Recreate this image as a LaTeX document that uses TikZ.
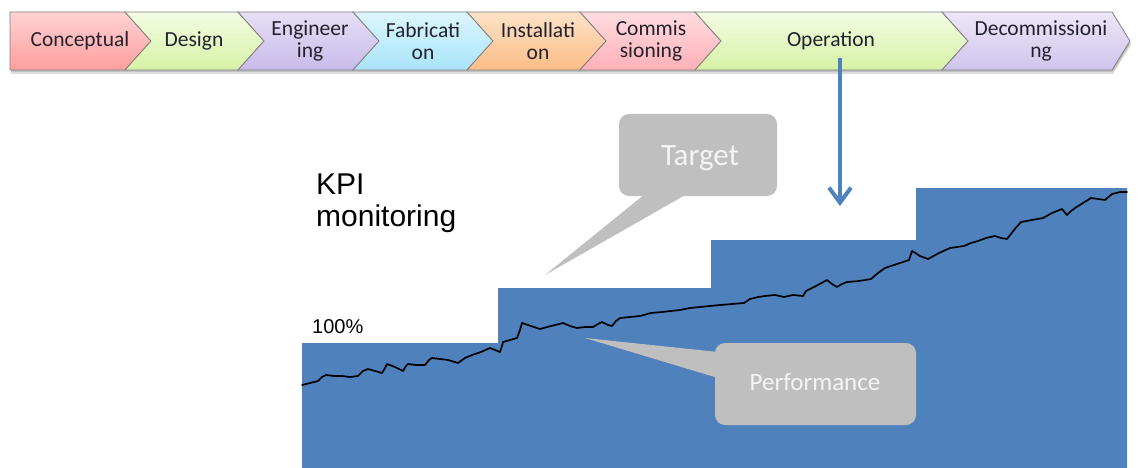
\documentclass[tikz,border=0pt]{standalone}
\usepackage{fontspec}
\setmainfont{Carlito}
\newfontfamily\arialfont{Liberation Sans}
\usetikzlibrary{arrows.meta}

\definecolor{chartblue}{HTML}{4F81BD}
\definecolor{calloutgray}{HTML}{BFBFBF}
\definecolor{callouttext}{HTML}{F4F4F4}
\definecolor{chevronedge}{HTML}{7F7F7F}
\definecolor{chevrontext}{HTML}{22222E}
% stage colours, light (top) and deeper (bottom)
\definecolor{redTop}{HTML}{FFD2D2}    \definecolor{redBot}{HTML}{FF9E9E}
\definecolor{limeTop}{HTML}{F4FCE4}   \definecolor{limeBot}{HTML}{D6F2A6}
\definecolor{lilacTop}{HTML}{E6DFF6}  \definecolor{lilacBot}{HTML}{C9BBEA}
\definecolor{cyanTop}{HTML}{DDF6FE}   \definecolor{cyanBot}{HTML}{A8E4FA}
\definecolor{peachTop}{HTML}{FEE2C8}  \definecolor{peachBot}{HTML}{FBBD86}
\definecolor{pinkTop}{HTML}{FFDCE0}   \definecolor{pinkBot}{HTML}{FFB0B8}
\definecolor{paleTop}{HTML}{EDE7F8}   \definecolor{paleBot}{HTML}{D0C4EC}

\begin{document}
\begin{tikzpicture}[x=1pt,y=-1pt,
  chevronbox/.style={draw=chevronedge,line width=0.8pt,line join=miter},
  chevronshadow/.style={fill=black,opacity=0.13},
  stagelabel/.style={text=chevrontext,align=center,inner sep=0pt,
    font=\fontsize{21.5}{22}\selectfont},
  callout/.style={fill=calloutgray,draw=none,rounded corners=10pt},
  calloutlabel/.style={text=callouttext,inner sep=0pt},
  plainlabel/.style={text=black,inner sep=0pt,anchor=base west,align=left}]

\useasboundingbox (0,0) rectangle (1138,468);

% ---- soft shadow under the stage bar
\foreach \s in {2,4}{
  \fill[chevronshadow,shift={(1,\s)}]
    (10,12) -- (1112,12) -- (1130,41) -- (1112,70) -- (10,70) -- cycle;
}

% ---- stage chevrons
\shade[chevronbox,top color=redTop,bottom color=redBot]
  (10,12) -- (125,12) -- (151,41) -- (125,70) -- (10,70) -- cycle;
\shade[chevronbox,top color=limeTop,bottom color=limeBot]
  (125,12) -- (238,12) -- (264,41) -- (238,70) -- (125,70) -- (151,41) -- cycle;
\shade[chevronbox,top color=lilacTop,bottom color=lilacBot]
  (238,12) -- (353,12) -- (379,41) -- (353,70) -- (238,70) -- (264,41) -- cycle;
\shade[chevronbox,top color=cyanTop,bottom color=cyanBot]
  (353,12) -- (467,12) -- (493,41) -- (467,70) -- (353,70) -- (379,41) -- cycle;
\shade[chevronbox,top color=peachTop,bottom color=peachBot]
  (467,12) -- (580,12) -- (606,41) -- (580,70) -- (467,70) -- (493,41) -- cycle;
\shade[chevronbox,top color=pinkTop,bottom color=pinkBot]
  (580,12) -- (695,12) -- (721,41) -- (695,70) -- (580,70) -- (606,41) -- cycle;
\shade[chevronbox,top color=limeTop,bottom color=limeBot]
  (695,12) -- (942,12) -- (968,41) -- (942,70) -- (695,70) -- (721,41) -- cycle;
\shade[chevronbox,top color=paleTop,bottom color=paleBot]
  (942,12) -- (1112,12) -- (1130,41) -- (1112,70) -- (942,70) -- (968,41) -- cycle;

% ---- stage names
\node[stagelabel] (conceptual) at (80,41)  {Conceptual};
\node[stagelabel] (design)     at (194,41) {Design};
\node[stagelabel] (engineering) at (310,41) {Engineer\\ing};
\node[stagelabel] (fabrication) at (423,41) {Fabricati\\on};
\node[stagelabel] (installation) at (538,41) {Installati\\on};
\node[stagelabel] (commissioning) at (651,41) {Commis\\sioning};
\node[stagelabel] (operation)  at (831,41) {Operation};
\node[stagelabel] (decommissioning) at (1041,41) {Decommissioni\\ng};

% ---- stepped target area
\fill[chartblue] (302,468) -- (302,343) -- (498,343) -- (498,288) -- (711,288)
  -- (711,240) -- (916,240) -- (916,188) -- (1127,188) -- (1127,468) -- cycle;

% ---- measured performance
\draw[black,line width=1.7pt,line join=round,line cap=round]
  (302,385) -- (310,383) -- (318,381) -- (322,377) -- (326,375) -- (334,376)
  -- (342,376) -- (350,377) -- (358,376) -- (363,371) -- (368,369) -- (375,371)
  -- (382,373) -- (385,368) -- (387,364) -- (395,367) -- (403,371) -- (406,366)
  -- (408,364) -- (416,365) -- (425,365) -- (429,360) -- (432,358) -- (440,359)
  -- (448,360) -- (458,363) -- (465,358) -- (472,355) -- (481,352) -- (490,348)
  -- (495,350) -- (500,352) -- (502,346) -- (503,342) -- (510,340) -- (517,338)
  -- (520,330) -- (522,323) -- (531,326) -- (540,329) -- (551,326) -- (563,323)
  -- (570,326) -- (577,328) -- (585,327) -- (593,327) -- (598,324) -- (602,322)
  -- (608,325) -- (612,326) -- (616,321) -- (620,318) -- (630,317) -- (640,316)
  -- (651,313) -- (662,312) -- (671,311) -- (680,310) -- (690,308) -- (700,307)
  -- (710,306) -- (720,305) -- (732,304) -- (744,303) -- (750,299) -- (758,297)
  -- (765,296) -- (775,295) -- (784,297) -- (793,295) -- (803,296) -- (806,291)
  -- (816,286) -- (827,280) -- (832,284) -- (837,287) -- (842,284) -- (847,282)
  -- (859,281) -- (871,279) -- (878,273) -- (885,268) -- (897,264) -- (909,260)
  -- (912,251) -- (920,256) -- (928,259) -- (939,253) -- (950,248) -- (957,247)
  -- (964,246) -- (971,243) -- (978,241) -- (986,238) -- (995,236) -- (1001,238)
  -- (1007,239) -- (1014,230) -- (1021,222) -- (1032,220) -- (1043,218)
  -- (1052,213) -- (1062,209) -- (1067,215) -- (1071,211) -- (1075,208)
  -- (1083,203) -- (1091,198) -- (1098,199) -- (1105,200) -- (1112,194)
  -- (1120,192) -- (1127,192);

% ---- labels of the chart
\node[plainlabel,font=\arialfont\fontsize{30}{32}\selectfont] (kpi) at (316,226)
  {KPI\\monitoring};
\node[plainlabel,font=\arialfont\fontsize{20}{22}\selectfont] (hundred) at (312,333)
  {100\%};

% ---- callouts
\fill[calloutgray] (645,194) -- (687,194) -- (545,275) -- cycle;
\node[callout,minimum width=158pt,minimum height=82pt] (targetbox) at (698,155) {};
\node[calloutlabel,font=\fontsize{31}{33}\selectfont] (target) at (700,158) {Target};

\fill[calloutgray] (718,352) -- (718,378) -- (585,338) -- cycle;
\node[callout,minimum width=201pt,minimum height=82pt] (perfbox) at (815.5,384) {};
\node[calloutlabel,font=\fontsize{25}{27}\selectfont] (performance) at (815,382) {Performance};

% ---- pointer from the operation stage down to the chart
\coordinate (arrowStart) at (840,58);
\coordinate (arrowEnd) at (840,206);
\draw[chartblue,line width=4pt,-{Straight Barb[length=15pt,width=22pt]}]
  (arrowStart) -- (arrowEnd);

\end{tikzpicture}
\end{document}
